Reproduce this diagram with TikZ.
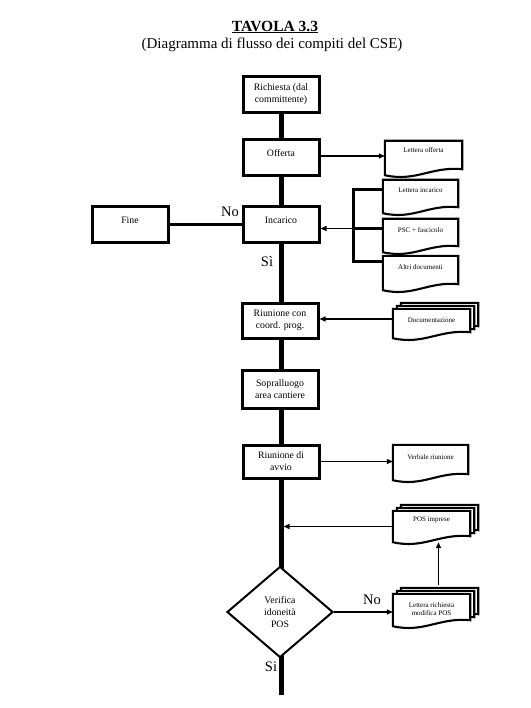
\documentclass[tikz,border=0pt]{standalone}
\usepackage{fontspec}
\setmainfont{Liberation Serif}
\usetikzlibrary{shapes.geometric,arrows.meta,calc}
\pgfdeclarelayer{bg}
\pgfsetlayers{bg,main}
\newcommand{\docpath}[3]{%
  \draw[docline] let \p1=(#1.north west), \p2=(#1.south east), \n1={\x2-\x1} in
    (\x1+#2,\y1+#3) -- (\x2+#2,\y1+#3) -- (\x2+#2,\y2+6pt+#3)
    .. controls (\x2-0.4*\n1+#2,\y2+9pt+#3) and (\x1+0.4*\n1+#2,\y2-7pt+#3) ..
    (\x1+#2,\y2+#3) -- cycle;}
\begin{document}
\begin{tikzpicture}[x=1pt,y=-1pt,
  box/.style={draw,line width=3pt,fill=white,minimum width=76pt,minimum height=36pt,
    align=center,inner sep=1pt,font=\fontsize{9.8}{11.8}\selectfont},
  hi/.style={text depth=10pt},
  docframe/.style={inner sep=0pt},
  docline/.style={draw,line width=2.1pt,fill=white,line join=miter},
  lbl/.style={font=\fontsize{7}{8.4}\selectfont,align=center,inner sep=0pt},
  spine/.style={line width=5pt},
  thick3/.style={line width=3pt},
  arr/.style={line width=1.3pt,-{Triangle[length=6pt,width=5pt]}},
  yn/.style={font=\fontsize{14.5}{16}\selectfont,inner sep=0pt}]
\useasboundingbox (0,0) rectangle (530,708);

% titles
\node (t1) at (275,27) {\fontsize{15.5}{17}\selectfont\underline{\textbf{TAVOLA 3.3}}};
\node (t2) at (272,45) {\fontsize{15}{17}\selectfont(Diagramma di flusso dei compiti del CSE)};

% main boxes
\node[box] (ric) at (281,94.5) {Richiesta (dal\\committente)};
\node[box,hi] (off) at (281,158) {Offerta};
\node[box,hi] (inc) at (281,225) {Incarico};
\node[box,hi] (fine) at (130,225) {Fine};
\node[box,minimum height=35pt] (rcp) at (280,320.5) {Riunione con\\coord. prog.};
\node[box,minimum height=38pt] (sop) at (280,389) {Sopralluogo\\area cantiere};
\node[box,minimum height=33pt] (rav) at (281,461.5) {Riunione di\\avvio};
\node[diamond,draw,line width=2pt,fill=white,minimum width=106pt,minimum height=91pt,
  inner sep=0pt,align=center,font=\fontsize{9.8}{11.8}\selectfont] (ver) at (280,612)
  {Verifica\\idoneità\\POS};
\coordinate (endsp) at (281,695);

% documents
\node[docframe,minimum width=77pt,minimum height=34pt,
  label={[lbl,anchor=center,yshift=-9pt]north:Lettera offerta}] (loff) at (423.5,158) {};
\node[docframe,minimum width=75pt,minimum height=33pt,
  label={[lbl,anchor=center,yshift=-10pt]north:Lettera incarico}] (linc) at (420.5,196.5) {};
\node[docframe,minimum width=75pt,minimum height=33pt,
  label={[lbl,anchor=center,yshift=-11pt]north:PSC + fascicolo}] (psc) at (420.5,235.5) {};
\node[docframe,minimum width=75pt,minimum height=34pt,
  label={[lbl,anchor=center,yshift=-11pt]north:Altri documenti}] (altri) at (420.5,273) {};
\node[docframe,minimum width=77pt,minimum height=29pt,
  label={[lbl,anchor=center,yshift=-11pt]north:Documentazione}] (docu) at (431.5,323.5) {};
\node[docframe,minimum width=75pt,minimum height=35pt,
  label={[lbl,anchor=center,yshift=-12pt]north:Verbale riunione}] (verb) at (430.5,462.5) {};
\node[docframe,minimum width=77pt,minimum height=31pt,
  label={[lbl,anchor=center,yshift=-9pt]north:POS imprese}] (pos) at (431.5,526.5) {};
\node[docframe,minimum width=77pt,minimum height=32pt,
  label={[lbl,anchor=center,yshift=-15pt]north:Lettera richiesta\\modifica POS}] (lrm) at (431.5,610) {};

\begin{pgfonlayer}{bg}
  \draw[spine] (ric.south) -- (endsp);
  \docpath{loff}{0pt}{0pt}
  \docpath{linc}{0pt}{0pt}
  \docpath{psc}{0pt}{0pt}
  \docpath{altri}{0pt}{0pt}
  \docpath{docu}{8pt}{6pt}
  \docpath{docu}{4pt}{3pt}
  \docpath{docu}{0pt}{0pt}
  \docpath{verb}{0pt}{0pt}
  \docpath{pos}{8pt}{6pt}
  \docpath{pos}{4pt}{3pt}
  \docpath{pos}{0pt}{0pt}
  \docpath{lrm}{8pt}{6pt}
  \docpath{lrm}{4pt}{3pt}
  \docpath{lrm}{0pt}{0pt}
\end{pgfonlayer}

% connectors
\draw[arr] (off.east) ++(0,-2) coordinate (offa) -- (offa -| loff.west);
\draw[thick3] (fine.east) -- (inc.west);
\coordinate (bt) at (353,190);
\coordinate (bm) at (353,228.5);
\coordinate (bb) at (353,261);
\draw[thick3] (bt -| linc.west) -- (bt) -- (bb) -- (bb -| altri.west);
\draw[thick3] (bm) -- (bm -| psc.west);
\draw[arr] (bm) -- (bm -| inc.east);
\draw[arr] (docu.west |- 0,319) coordinate (da) -- (da -| rcp.east);
\draw[arr] (rav.east) -- (rav.east -| verb.west);
\draw[arr,shorten >=2.5pt] (pos.west) -- (pos.west -| endsp);
\draw[arr] (ver.east) -- (ver.east -| lrm.west);
\coordinate (lrmtop) at ([xshift=7pt,yshift=9pt]lrm.north);
\draw[arr] (lrmtop) -- (lrmtop |- pos.south);

% yes/no labels
\node[yn] (no1) at (230,212) {No};
\node[yn] (si1) at (267,262) {Sì};
\node[yn] (no2) at (372,600) {No};
\node[yn] (si2) at (271,667) {Si};
\end{tikzpicture}
\end{document}
